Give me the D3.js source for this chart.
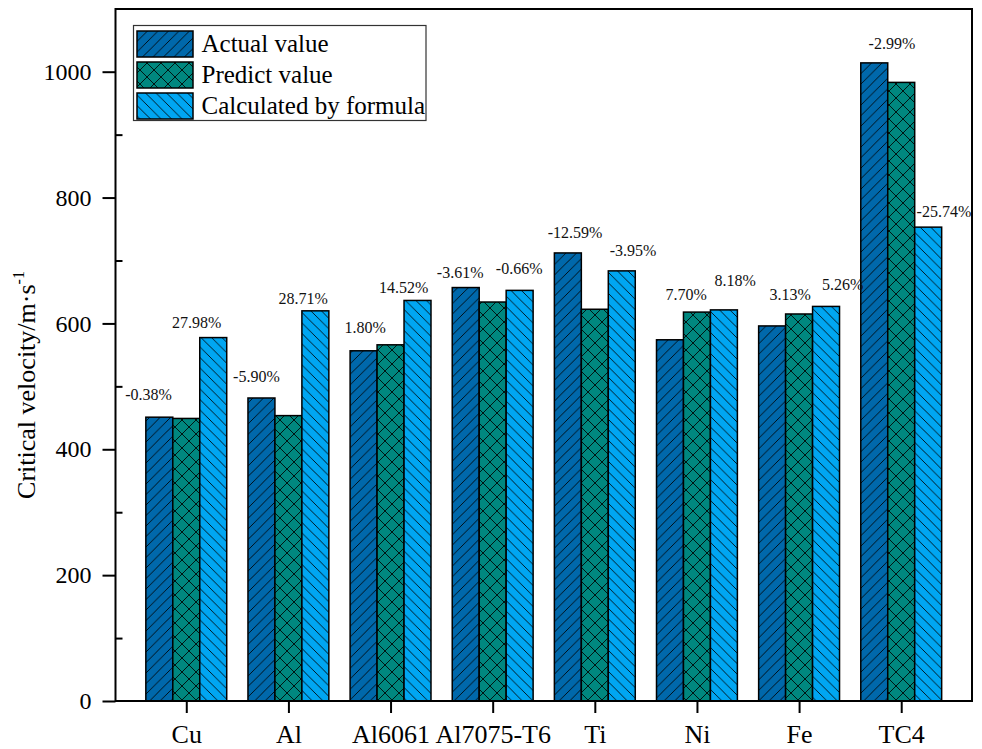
<!DOCTYPE html>
<html>
<head>
<meta charset="utf-8">
<script src="https://cdn.jsdelivr.net/npm/d3@7/dist/d3.min.js"></script>
<style>
  html, body { margin: 0; padding: 0; background: #fff; }
  svg text { font-family: "Liberation Serif", "Times New Roman", serif !important; }
</style>
</head>
<body>
<svg id="chart" width="982" height="749"></svg>
<script>
// Materials and critical velocity (m/s) for the three methods
const materials = ["Cu", "Al", "Al6061", "Al7075-T6", "Ti", "Ni", "Fe", "TC4"];
const seriesNames = ["Actual value", "Predict value", "Calculated by formula"];
const actualValues = [451, 481.5, 556.5, 657, 712, 574, 596, 1014];
const predictValues = [449, 453.5, 566, 634, 622.5, 618, 615, 983];
const formulaValues = [577.5, 620, 636.5, 652.5, 683.5, 621.5, 627, 753];
// Relative deviation from the actual value
const predictDeviation = ["-0.38%", "-5.90%", "1.80%", "-3.61%", "-12.59%", "7.70%", "3.13%", "-2.99%"];
const formulaDeviation = ["27.98%", "28.71%", "14.52%", "-0.66%", "-3.95%", "8.18%", "5.26%", "-25.74%"];
const yTickValues = [0, 200, 400, 600, 800, 1000];
const yMinorTickValues = [100, 300, 500, 700, 900];

// Hand-placed label offsets: [dx from category centre, dy from bar top]
const predictLabelNudge = [[-37.7, -22.7], [-32, -21.3], [-25.3, -17], [-32.5, -15], [-19.8, -21], [-10.7, -17.3], [-9, -20], [-9.3, -19.3]];
const formulaLabelNudge = [[10.3, -15.6], [14.7, -12], [13, -13], [26.5, -21.7], [38.3, -20], [38.3, -29.3], [43.7, -21.7], [42.7, -15.6]];

const colors = ["#0068AB", "#00877F", "#00A6F2"];

const svg = d3.select("#chart");
const plot = { left: 115.5, right: 972, top: 9, bottom: 701 };

const x = d3.scalePoint().domain(materials).range([plot.left, plot.right]).padding(0.693);
const inner = d3.scaleBand().domain(seriesNames)
  .range([-x.step() * 0.396, x.step() * 0.396]).padding(0);
const y = d3.scaleLinear().domain([0, 1100]).range([plot.bottom, plot.bottom - 1100 * 0.6293]);

// Hatch patterns
const defs = svg.append("defs");
function hatch(id, color, spacing, dirs) {
  const p = defs.append("pattern").attr("id", id)
    .attr("patternUnits", "userSpaceOnUse")
    .attr("width", spacing).attr("height", spacing);
  p.append("rect").attr("width", spacing).attr("height", spacing).attr("fill", color);
  const s = spacing;
  dirs.forEach(d => {
    const segs = d === "/"
      ? [[0, s, s, 0], [-s / 2, s / 2, s / 2, -s / 2], [s / 2, s * 1.5, s * 1.5, s / 2]]
      : [[0, 0, s, s], [-s / 2, s / 2, s / 2, s * 1.5], [s / 2, -s / 2, s * 1.5, s / 2]];
    segs.forEach(([x1, y1, x2, y2]) => p.append("line")
      .attr("x1", x1).attr("y1", y1).attr("x2", x2).attr("y2", y2)
      .attr("stroke", "#000").attr("stroke-width", 0.85));
  });
}
hatch("pat0", colors[0], 10.5, ["/"]);
hatch("pat1", colors[1], 14, ["/", "\\"]);
hatch("pat2", colors[2], 10.5, ["\\"]);

const seriesValues = [actualValues, predictValues, formulaValues];

// Bars
seriesValues.forEach((vals, si) => {
  svg.append("g").selectAll("rect")
    .data(materials.map((m, i) => ({ m, v: vals[i] })))
    .join("rect")
    .attr("x", d => x(d.m) + inner(seriesNames[si]))
    .attr("y", d => y(d.v))
    .attr("width", inner.bandwidth())
    .attr("height", d => y(0) - y(d.v))
    .attr("fill", `url(#pat${si})`)
    .attr("stroke", "#000")
    .attr("stroke-width", 1.5);
});

// Deviation labels
const labelG = svg.append("g").attr("font-size", 16).attr("text-anchor", "middle").attr("fill", "#111");
materials.forEach((m, i) => {
  const topA = y(Math.max(actualValues[i], predictValues[i]));
  labelG.append("text")
    .attr("x", x(m) + predictLabelNudge[i][0])
    .attr("y", topA + predictLabelNudge[i][1] + 5.6)
    .text(predictDeviation[i]);
  labelG.append("text")
    .attr("x", x(m) + formulaLabelNudge[i][0])
    .attr("y", y(formulaValues[i]) + formulaLabelNudge[i][1] + 5.6)
    .text(formulaDeviation[i]);
});

// Frame
svg.append("rect")
  .attr("x", plot.left).attr("y", plot.top)
  .attr("width", plot.right - plot.left).attr("height", plot.bottom - plot.top)
  .attr("fill", "none").attr("stroke", "#000").attr("stroke-width", 2);

// Y axis
const yAxis = svg.append("g").attr("transform", `translate(${plot.left},0)`)
  .call(d3.axisLeft(y).tickValues(yTickValues).tickFormat(d3.format("d")).tickSize(13).tickPadding(11));
yAxis.select(".domain").remove();
yAxis.selectAll(".tick line").attr("stroke-width", 2);
yAxis.selectAll(".tick text").attr("font-size", 24).attr("fill", "#000");
svg.append("g").attr("transform", `translate(${plot.left},0)`)
  .call(d3.axisRight(y).tickValues(yMinorTickValues).tickSize(7).tickFormat(""))
  .call(g => g.select(".domain").remove())
  .selectAll(".tick line").attr("stroke-width", 2);

// X axis
const xAxis = svg.append("g").attr("transform", `translate(0,${plot.bottom})`)
  .call(d3.axisBottom(x).tickSize(12).tickPadding(12));
xAxis.select(".domain").remove();
xAxis.selectAll(".tick line").attr("stroke-width", 2);
xAxis.selectAll(".tick text").attr("font-size", 26).attr("fill", "#000");

// Y axis title
const title = svg.append("text")
  .attr("transform", `translate(35,${(plot.top + plot.bottom) / 2 + 30}) rotate(-90)`)
  .attr("text-anchor", "middle").attr("font-size", 26).attr("fill", "#000");
title.append("tspan").text("Critical velocity/m·s");
title.append("tspan").attr("font-size", 16).attr("dy", -11).text("-1");

// Legend
const legend = svg.append("g");
legend.append("rect").attr("x", 133.5).attr("y", 25.5).attr("width", 292.5).attr("height", 95)
  .attr("fill", "#fff").attr("stroke", "#333").attr("stroke-width", 1.2);
seriesNames.forEach((name, si) => {
  const ry = 31 + si * 31;
  legend.append("rect").attr("x", 137).attr("y", ry).attr("width", 56).attr("height", 26)
    .attr("fill", `url(#pat${si})`).attr("stroke", "#000").attr("stroke-width", 1.5);
  legend.append("text").attr("x", 201.5).attr("y", ry + 21).attr("font-size", 25).attr("fill", "#000").text(name);
});
</script>
</body>
</html>
